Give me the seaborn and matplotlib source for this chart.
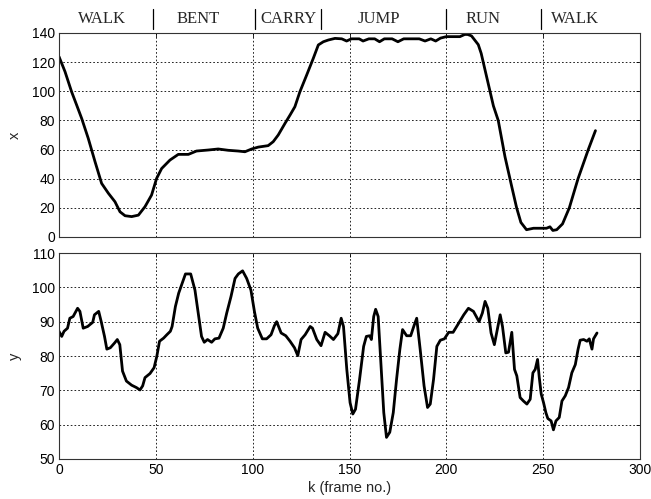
import matplotlib
matplotlib.use("Agg")
import matplotlib.pyplot as plt
import seaborn as sns
import pandas as pd

# ---- data ----
x_frames = [0, 3.1, 6.5, 9.1, 11.7, 15.1, 18.6, 22.0, 25.5, 28.9, 31.5, 34.1, 37.5, 41, 44.4,
            47.8, 50.4, 53, 57.3, 61.6, 66.8, 71, 77.1, 82.2, 87.4, 92.5, 96, 99.5, 102.9,
            108, 110.6, 113.2, 116.7, 119.3, 121.8, 124.4, 127.9, 131.3, 133.9, 136.5,
            139.1, 142.5, 146, 148.5, 151, 155, 157, 160, 163, 165.5, 168, 172, 175, 178,
            182, 186, 189, 192, 194.5, 197, 200, 204, 207, 209.5, 211, 213, 216.5, 218,
            220.8, 224.3, 226.8, 230.3, 233.7, 236.3, 238.5, 241.4, 245, 248, 251.7,
            253.5, 255, 257, 260, 263.5, 268, 273.3, 277]
x_values = [123.8, 113.5, 99.7, 90.6, 81.4, 67.7, 51.7, 36.8, 30, 24.2, 17.3, 14.6, 14, 15,
            20.8, 28.8, 40.2, 47, 52.8, 56.7, 56.7, 59, 59.7, 60.4, 59.5, 59, 58.5, 60.4,
            61.7, 62.7, 65.4, 70, 78, 83.7, 89.4, 99.7, 111.2, 122.6, 131.8, 134, 135.2,
            136.3, 136, 134.5, 136, 136, 134.5, 136, 136, 134, 136, 136, 134, 136, 136,
            136, 134.5, 136, 134.5, 136.5, 137.5, 137.5, 137.5, 139, 139, 138, 132, 126,
            110, 90, 80, 55, 35, 20, 10, 5, 6, 6, 6, 7, 4.5, 5, 9, 20, 40, 60, 73]

y_frames = [0, 1.4, 2.6, 4.4, 5.6, 7.3, 9.6, 10.8, 12.5, 14.8, 17.4, 18.3, 20.5, 21.8, 23.5,
            24.7, 26.5, 28.7, 30.1, 31.4, 32.8, 34.8, 37.5, 40, 41.8, 43.2, 44.4, 47, 49.1,
            50.5, 51.9, 54, 55.7, 57.5, 58.4, 60.1, 61.8, 63.6, 65.3, 68, 70.2, 71.9, 73.6,
            75, 76.7, 78.8, 80.5, 82.6, 84.8, 86.6, 88.8, 90.9, 92.6, 94.8, 96.9, 99.1,
            100.9, 102.6, 105, 107.2, 109.5, 111.2, 112.4, 114.7, 117.1, 119.3, 121.6,
            123.3, 125, 127.1, 129.7, 130.9, 133.1, 135.3, 137.4, 139.6, 141.7, 144, 145.7,
            146.9, 148.6, 150.3, 151.7, 153.1, 155.2, 157.3, 158.7, 160.4, 161.3, 162.5,
            163.5, 164.8, 166.5, 167.7, 169.1, 170.8, 172.6, 174.3, 176, 177.4, 179.5,
            181.6, 183.3, 184.7, 186.5, 188.5, 190.3, 191.7, 193.4, 195.1, 196.9, 199,
            201.2, 203.5, 205.9, 209, 211.4, 214, 216.9, 218.6, 220, 221.4, 223.1, 224.8,
            226.6, 227.8, 229, 230.7, 232.1, 233.8, 235.2, 236.4, 238.1, 239.8, 241.6,
            243.3, 244.7, 245.9, 247.1, 248, 249, 250.2, 251.4, 252.4, 254.1, 255.3, 256.6,
            258.3, 259.7, 261.4, 263.1, 264.8, 266.6, 268, 269.1, 270.9, 272.6, 273.8,
            275.2, 276, 277.8]
y_values = [87.2, 85.7, 87.2, 88.1, 91, 91.5, 93.9, 93, 88.1, 88.6, 89.8, 92, 93, 90, 85.7,
            82, 82.4, 83.8, 84.8, 83.3, 75.6, 72.7, 71.5, 70.8, 70.1, 71.3, 73.7, 74.9,
            76.6, 79.9, 84.3, 85.2, 86.2, 87.2, 88.6, 94.4, 98.3, 101.2, 103.9, 103.9,
            99.2, 92.5, 85.7, 84, 84.8, 84, 85, 85.2, 88.1, 92.5, 97.3, 102.6, 103.9, 104.8,
            102.6, 99.2, 93, 88.1, 85, 85, 86.2, 88.8, 90, 86.7, 85.9, 84.3, 82.4, 80.1,
            84.8, 86.2, 88.6, 88.1, 84.8, 83, 86.9, 85.9, 84.8, 86.5, 91, 88.6, 76.1, 66.4,
            63.1, 64.5, 73.2, 82.8, 85.7, 85.9, 84.8, 91.5, 93.6, 91.5, 75.1, 63.5, 56.3,
            57.8, 63.5, 73.2, 81.9, 87.7, 85.9, 85.9, 88.8, 91, 81.9, 71.3, 65, 66, 73.2,
            82.8, 84.6, 85, 86.9, 86.9, 89.1, 92, 93.9, 93, 90, 92.5, 95.9, 93.9, 86.7,
            83.3, 88.6, 92, 88.6, 80.9, 81.1, 86.9, 76.1, 74.2, 67.9, 66.9, 66, 67.4, 75.1,
            76.1, 79, 73.7, 68.9, 66.4, 63.5, 61.8, 61.1, 58.5, 61.1, 62.1, 66.9, 68.4,
            70.8, 75.1, 77.5, 81.9, 84.6, 84.8, 84.3, 85, 82, 85, 86.7]

activities = ["WALK", "BENT", "CARRY", "JUMP", "RUN", "WALK"]
activity_centers = [22, 72, 118.5, 165, 219, 266.5]
activity_bounds = [48.5, 101, 135.5, 200, 249]

x_ticks_top = [0, 20, 40, 60, 80, 100, 120, 140]
y_ticks_bottom = [50, 60, 70, 80, 90, 100, 110]
k_ticks = [0, 50, 100, 150, 200, 250, 300]

# ---- style ----
sns.set_style("white")
plt.rcParams['font.family'] = ['Liberation Sans', 'DejaVu Sans']

fig = plt.figure(figsize=(6.51, 4.99), dpi=100)
W, H = 651, 499
ax1 = fig.add_axes([59 / W, 1 - 237 / H, (640 - 59) / W, (237 - 33) / H])
ax2 = fig.add_axes([59 / W, 1 - 459 / H, (640 - 59) / W, (459 - 253) / H])

df_x = pd.DataFrame({"k": x_frames, "x": x_values})
df_y = pd.DataFrame({"k": y_frames, "y": y_values})

sns.lineplot(data=df_x, x="k", y="x", ax=ax1, color="black", linewidth=2.0, sort=False)
sns.lineplot(data=df_y, x="k", y="y", ax=ax2, color="black", linewidth=2.0, sort=False)

for ax in (ax1, ax2):
    ax.set_xlim(0, 300)
    ax.set_xticks(k_ticks)
    ax.grid(True, color="black", linestyle=(0, (2, 2.5)), linewidth=0.6)
    ax.tick_params(direction="in", length=3, width=0.6, labelsize=10, colors="black",
                   top=True, right=True, pad=3)
    for s in ax.spines.values():
        s.set_color("#333333")
        s.set_linewidth(0.8)

ax1.set_ylim(0, 140)
ax1.set_yticks(x_ticks_top)
ax1.tick_params(labelbottom=False)
ax1.set_xlabel("")
ax1.set_ylabel("x", fontsize=10.5, labelpad=7)

ax2.set_ylim(50, 110)
ax2.set_yticks(y_ticks_bottom)
ax2.set_xlabel("k (frame no.)", fontsize=10.5, labelpad=3)
ax2.set_ylabel("y", fontsize=10.5, labelpad=7)

# activity labels above the top panel
for name, c in zip(activities, activity_centers):
    ax1.text(c, 1.07, name, transform=ax1.get_xaxis_transform(), ha="center", va="center",
             fontsize=12, family=["Liberation Serif", "DejaVu Serif"], clip_on=False)
for b in activity_bounds:
    ax1.plot([b, b], [1.02, 1.12], transform=ax1.get_xaxis_transform(), color="black",
             linewidth=0.9, clip_on=False)

fig.savefig("out.png", dpi=100)
